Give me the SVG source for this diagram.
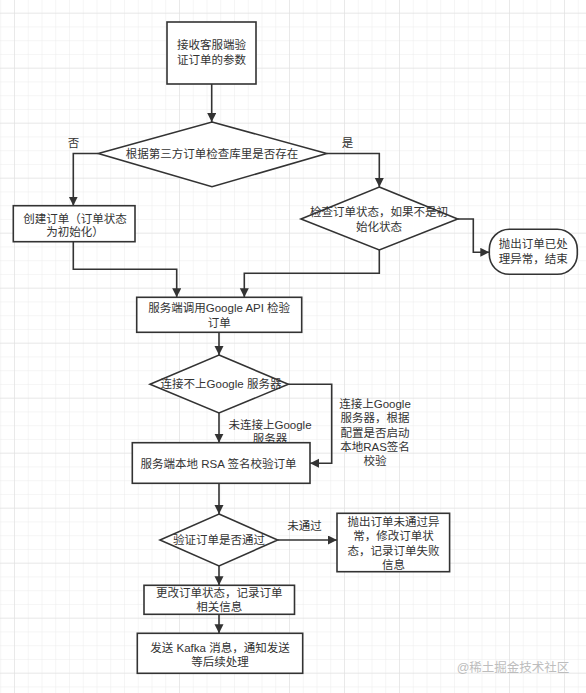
<svg xmlns="http://www.w3.org/2000/svg" width="586" height="693" viewBox="0 0 586 693">
<style>
.n{fill:#fff;stroke:#333;stroke-width:1.6}
.c{fill:none;stroke:#333;stroke-width:1.6}
text{font-family:"Liberation Sans","Noto Sans CJK SC",sans-serif;font-size:11.5px;fill:#333;stroke:none;text-anchor:middle;dominant-baseline:central}
.wm{font-size:12.5px;fill:#bdbdbd}
</style>
<defs>
<pattern id="gm" width="13.75" height="13.75" patternUnits="userSpaceOnUse" x="0.25" y="12.7">
<path d="M0 0H13.75M0 0V13.75" fill="none" stroke="#ececec" stroke-width="1"/>
</pattern>
<pattern id="gM" width="55" height="55" patternUnits="userSpaceOnUse" x="14" y="12.7">
<path d="M0 0H55M0 0V55" fill="none" stroke="#dedede" stroke-width="1"/>
</pattern>
<marker id="ah" markerWidth="10" markerHeight="10" refX="9" refY="4.5" orient="auto" markerUnits="userSpaceOnUse">
<path d="M0 0L9 4.5L0 9Z" fill="#333"/>
</marker>
</defs>
<rect width="586" height="693" fill="#fff"/>
<rect width="586" height="693" fill="url(#gm)"/>
<rect width="586" height="693" fill="url(#gM)"/>

<g id="connectors">
<path class="c" d="M211.7 84V122" marker-end="url(#ah)"/>
<path class="c" d="M98.3 153.5H73.3V205.7" marker-end="url(#ah)"/>
<path class="c" d="M326.7 153.5H379.3V187" marker-end="url(#ah)"/>
<path class="c" d="M73.3 241.7V269.3H176.7V297.3" marker-end="url(#ah)"/>
<path class="c" d="M379.3 250V273.3H244.3V297.3" marker-end="url(#ah)"/>
<path class="c" d="M457.7 219H473.3V252.3H489.3" marker-end="url(#ah)"/>
<path class="c" d="M219 332.3V355" marker-end="url(#ah)"/>
<path class="c" d="M219 413V442.7" marker-end="url(#ah)"/>
<path class="c" d="M288.3 384.3H331.7V463.3H310" marker-end="url(#ah)"/>
<path class="c" d="M219 483.3V514" marker-end="url(#ah)"/>
<path class="c" d="M277.7 540H337" marker-end="url(#ah)"/>
<path class="c" d="M219 566V585.3" marker-end="url(#ah)"/>
<path class="c" d="M219 614.3V633.3" marker-end="url(#ah)"/>
</g>
<g id="connector-labels">
<text x="73.6" y="143.3">否</text>
<text x="347.5" y="143.3">是</text>
<text><tspan x="375" y="404.3">连接上Google</tspan><tspan x="375" y="418.3">服务器，根据</tspan><tspan x="375" y="432.5">配置是否启动</tspan><tspan x="375" y="446.5">本地RAS签名</tspan><tspan x="375" y="460.5">校验</tspan></text>
<text><tspan x="270" y="425">未连接上Google</tspan><tspan x="270" y="439">服务器</tspan></text>
<text x="304.5" y="526">未通过</text>
</g>

<g id="start">
<rect class="n" x="167" y="22" width="89" height="62"/>
<text><tspan x="211.5" y="45">接收客服端验</tspan><tspan x="211.5" y="60">证订单的参数</tspan></text>
</g>
<g id="check-exists">
<polygon class="n" points="212,122 326.7,153.5 212,186.7 98.3,153.5"/>
<text x="212" y="153.5">根据第三方订单检查库里是否存在</text>
</g>
<g id="create-order">
<rect class="n" x="13.3" y="205.7" width="121.7" height="36"/>
<text><tspan x="75" y="219.3">创建订单（订单状态</tspan><tspan x="75" y="232">为初始化）</tspan></text>
</g>
<g id="check-status">
<polygon class="n" points="379.3,187 457.7,219 379.3,250 301,219"/>
<text><tspan x="379" y="212.3">检查订单状态，如果不是初</tspan><tspan x="379" y="226.7">始化状态</tspan></text>
</g>
<g id="processed-end">
<rect class="n" x="489.3" y="229.3" width="88" height="45" rx="20" ry="20"/>
<text><tspan x="533.3" y="244.3">抛出订单已处</tspan><tspan x="533.3" y="259.3">理异常，结束</tspan></text>
</g>
<g id="google-api">
<rect class="n" x="136.7" y="297.3" width="165" height="35"/>
<text><tspan x="219.2" y="308.3">服务端调用Google API 检验</tspan><tspan x="219.2" y="322.7">订单</tspan></text>
</g>
<g id="google-connect">
<polygon class="n" points="219,355 288.3,384.3 219,413 150,384.3"/>
<text x="221" y="384.3">连接不上Google 服务器</text>
</g>
<g id="rsa-verify">
<rect class="n" x="132.3" y="442.7" width="177.7" height="40.6"/>
<text x="218.5" y="464.3">服务端本地 RSA 签名校验订单</text>
</g>
<g id="verify-pass">
<polygon class="n" points="219,514 277.7,540 219,566 160,540"/>
<text x="219" y="540">验证订单是否通过</text>
</g>
<g id="verify-fail">
<rect class="n" x="337" y="513.3" width="112.6" height="58.4"/>
<text><tspan x="393.5" y="522.3">抛出订单未通过异</tspan><tspan x="393.5" y="536.3">常，修改订单状</tspan><tspan x="393.5" y="550.5">态，记录订单失败</tspan><tspan x="393.5" y="564.5">信息</tspan></text>
</g>
<g id="update-status">
<rect class="n" x="144" y="585.3" width="150.5" height="29"/>
<text><tspan x="219.2" y="593.3">更改订单状态，记录订单</tspan><tspan x="219.2" y="606.7">相关信息</tspan></text>
</g>
<g id="send-kafka">
<rect class="n" x="137.3" y="633.3" width="165.4" height="40"/>
<text><tspan x="220" y="648.3">发送 Kafka 消息，通知发送</tspan><tspan x="220" y="661.7">等后续处理</tspan></text>
</g>
<text class="wm" x="513" y="668.3">@稀土掘金技术社区</text>
</svg>
